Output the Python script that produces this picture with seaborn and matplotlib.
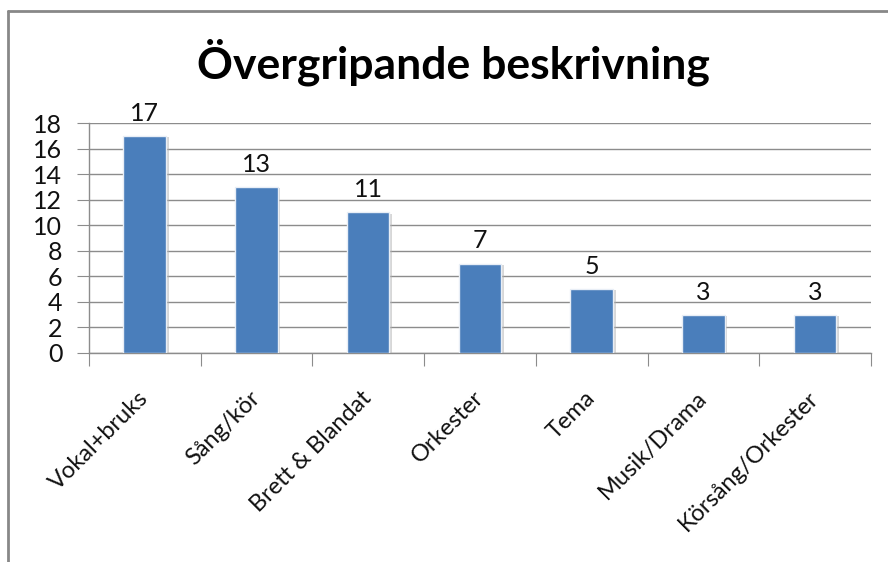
import matplotlib
matplotlib.use('Agg')
import matplotlib.pyplot as plt
import matplotlib.patheffects as pe
from matplotlib.lines import Line2D
import seaborn as sns
import pandas as pd

categories = ['Vokal+bruks', 'Sång/kör', 'Brett & Blandat', 'Orkester', 'Tema', 'Musik/Drama', 'Körsång/Orkester']
counts = [17, 13, 11, 7, 5, 3, 3]
yticks = [0, 2, 4, 6, 8, 10, 12, 14, 16, 18]

df = pd.DataFrame({'kategori': categories, 'antal': counts})

sns.set_style('white')
plt.rcParams['font.family'] = ['Lato', 'DejaVu Sans']

fig = plt.figure(figsize=(8.88, 5.62), dpi=100)
ax = fig.add_axes([0.100, 0.372, 0.881, 0.409])

sns.barplot(data=df, x='kategori', y='antal', color='#4A7EBB', saturation=1, width=0.38,
            edgecolor='#e8eef6', linewidth=1, ax=ax, zorder=3)
for p in ax.patches:
    p.set_path_effects([pe.SimplePatchShadow(offset=(2, -1), shadow_rgbFace='#b0b0b0', alpha=0.5), pe.Normal()])

ax.bar_label(ax.containers[0], padding=8, fontsize=18, color='#111111')

ax.set_ylim(0, 18)
ax.set_yticks(yticks)
ax.set_xlim(-0.5, len(categories) - 0.5)
ax.yaxis.grid(True, color='#8c8c8c', linewidth=1, zorder=0)
ax.set_axisbelow(True)
for s in ['top', 'right']:
    ax.spines[s].set_visible(False)
for s in ['left', 'bottom']:
    ax.spines[s].set_color('#8c8c8c')
    ax.spines[s].set_linewidth(1)

ax.tick_params(axis='y', length=9, color='#8c8c8c', labelsize=18, labelcolor='#111111', pad=10, left=True)
ax.set_xticks([i + 0.5 for i in range(-1, len(categories))], minor=False)
ax.set_xticklabels([])
ax.tick_params(axis='x', which='major', length=9, color='#8c8c8c', direction='out', bottom=True)
ax.set_xticks(range(len(categories)), minor=True)
ax.set_xticklabels(categories, minor=True, rotation=45, ha='right', va='center', rotation_mode='anchor',
                   fontsize=17, color='#111111')
ax.tick_params(axis='x', which='minor', length=0, pad=30)
ax.set_xlabel('')
ax.set_ylabel('')

fig.text(0.511, 0.89, 'Övergripande beskrivning', ha='center', va='center', fontsize=32,
         fontweight='bold', color='black')

# chart frame
fig.add_artist(Line2D([7.5 / 888, 7.5 / 888], [0, 1 - 11 / 562], color='#888888', linewidth=2))
fig.add_artist(Line2D([7.5 / 888, 1], [1 - 11 / 562, 1 - 11 / 562], color='#888888', linewidth=2))

fig.savefig('out.png', dpi=100)
